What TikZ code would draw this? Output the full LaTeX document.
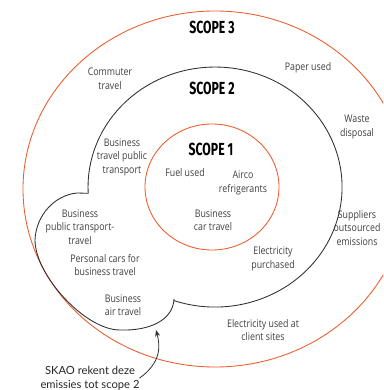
\documentclass[tikz,border=0pt]{standalone}
\usepackage{fontspec}
\usetikzlibrary{arrows.meta}
\setmainfont{Open Sans}[FakeStretch=0.84]
\newfontfamily\scopefont{Fira Sans}[FakeStretch=0.7]
\newfontfamily\notefont{Lato}
\definecolor{scopeorange}{HTML}{EE5A2A}
\definecolor{scopeblack}{HTML}{2E2E2E}
\definecolor{labelgray}{HTML}{404040}
\begin{document}
\begin{tikzpicture}[x=1pt, y=-1pt, >={Stealth[length=6.5pt, width=5pt]}, line join=round, line cap=round,
	ring/.style={line width=0.85pt},
	label/.style={align=center, text=labelgray, inner sep=0pt, font=\fontsize{10.5}{13.5}\selectfont},
	title/.style={inner sep=0pt, text=black, font=\scopefont\bfseries\fontsize{17.5}{20}\selectfont}]
	\useasboundingbox (0,0) rectangle (383,390);
	\clip (0,0) rectangle (383,390);
	\fill[white] (0,0) rectangle (383,390);
	\draw[ring, scopeorange] (215,189) ellipse[x radius=192, y radius=178];
	\draw[ring, scopeblack] (173.7,300.5) arc[start angle=109, end angle=-183, x radius=127, y radius=120] -- (77,193)
		.. controls (55,195) and (36,215) .. (35,240)
		.. controls (35,275) and (85,330) .. (120,330)
		.. controls (150,331) and (173,320) .. (174,299) -- cycle;
	\draw[ring, scopeorange] (212,187) ellipse[x radius=67, y radius=63];
	\node[title] (scope3) at (212,27) {SCOPE 3};
	\node[title] (scope2) at (212,88) {SCOPE 2};
	\node[title] (scope1) at (211,149) {SCOPE 1};
	\node[label] (commuter) at (110,79) {Commuter\\travel};
	\node[label] (paper) at (308,68) {Paper used};
	\node[label] (waste) at (357,127) {Waste\\disposal};
	\node[label] (suppliers) at (357,228) {Suppliers\\outsourced\\emissions};
	\node[label] (btpt) at (122,157) {Business\\travel public\\transport};
	\node[label] (fuel) at (185,173) {Fuel used};
	\node[label] (airco) at (243,183) {Airco\\refrigerants};
	\node[label] (bcar) at (213,220) {Business\\car travel};
	\node[label] (bpt) at (80,227) {Business\\public transport-\\travel};
	\node[label] (pcars) at (105,265) {Personal cars for\\business travel};
	\node[label] (bair) at (123,305) {Business\\air travel};
	\node[label] (elecp) at (273,259) {Electricity\\purchased};
	\node[label] (elecc) at (263,330) {Electricity used at\\client sites};
	\node[align=center, inner sep=0pt, text=black!85, font=\notefont\fontsize{11.2}{14}\selectfont] (skao) at (90,378) {SKAO rekent deze\\emissies tot scope 2};
	\coordinate (airtip) at (156,330);
	\draw[->, line width=0.8pt, scopeblack] (skao.east) .. controls (162,362) and (160,345) .. (airtip);
\end{tikzpicture}
\end{document}
